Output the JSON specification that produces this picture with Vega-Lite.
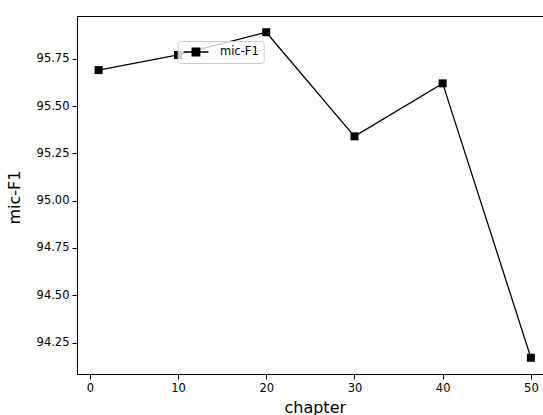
{
  "$schema": "https://vega.github.io/schema/vega-lite/v6.json",
  "width": 475.5,
  "height": 358,
  "autosize": {"type": "none"},
  "padding": {"left": 77, "top": 16, "right": 0, "bottom": 41},
  "background": "white",
  "config": {
    "view": {"stroke": "black", "strokeWidth": 1},
    "font": "DejaVu Sans",
    "axis": {
      "grid": false,
      "domain": false,
      "tickColor": "black",
      "tickSize": 5,
      "tickWidth": 1,
      "labelColor": "black",
      "labelFont": "DejaVu Sans",
      "labelFontSize": 11.5,
      "labelPadding": 3,
      "titleFont": "DejaVu Sans",
      "titleFontSize": 16,
      "titleFontWeight": "normal",
      "titleColor": "black"
    }
  },
  "data": {
    "values": [
      {"chapter": 1, "f1": 95.69, "series": "mic-F1"},
      {"chapter": 10, "f1": 95.77, "series": "mic-F1"},
      {"chapter": 20, "f1": 95.89, "series": "mic-F1"},
      {"chapter": 30, "f1": 95.34, "series": "mic-F1"},
      {"chapter": 40, "f1": 95.62, "series": "mic-F1"},
      {"chapter": 50, "f1": 94.17, "series": "mic-F1"}
    ]
  },
  "mark": {
    "type": "line",
    "strokeWidth": 1.3,
    "point": {"shape": "square", "size": 64, "filled": true, "color": "black", "opacity": 1}
  },
  "encoding": {
    "x": {
      "field": "chapter",
      "type": "quantitative",
      "scale": {"domain": [-1.45, 52.45], "nice": false, "zero": false},
      "axis": {
        "values": [0, 10, 20, 30, 40, 50],
        "title": "chapter",
        "titleX": 237.75,
        "titleY": 38,
        "titleBaseline": "alphabetic",
        "titleAlign": "center"
      }
    },
    "y": {
      "field": "f1",
      "type": "quantitative",
      "scale": {"domain": [94.084, 95.976], "nice": false, "zero": false},
      "axis": {
        "values": [94.25, 94.5, 94.75, 95.0, 95.25, 95.5, 95.75],
        "format": ".2f",
        "title": "mic-F1",
        "titleX": -58,
        "titleY": 181,
        "titleAngle": -90,
        "titleBaseline": "alphabetic",
        "titleAlign": "center"
      }
    },
    "color": {
      "field": "series",
      "type": "nominal",
      "scale": {"range": ["black"]},
      "legend": {
        "title": null,
        "orient": "none",
        "legendX": 100.7,
        "legendY": 25,
        "padding": 4,
        "fillColor": "rgba(255,255,255,0.8)",
        "strokeColor": "#cccccc",
        "cornerRadius": 3,
        "symbolType": "M-2,0H2M-0.6,-0.6H0.6V0.6H-0.6Z",
        "symbolSize": 156.25,
        "symbolOffset": 7.25,
        "symbolStrokeWidth": 1.3,
        "symbolStrokeColor": "black",
        "symbolFillColor": "black",
        "labelOffset": 17,
        "labelFont": "DejaVu Sans",
        "labelFontSize": 11.5,
        "labelColor": "black",
        "encode": {
          "symbols": {"update": {"fill": {"value": "black"}, "stroke": {"value": "black"}, "opacity": {"value": 1}}}
        }
      }
    }
  }
}
